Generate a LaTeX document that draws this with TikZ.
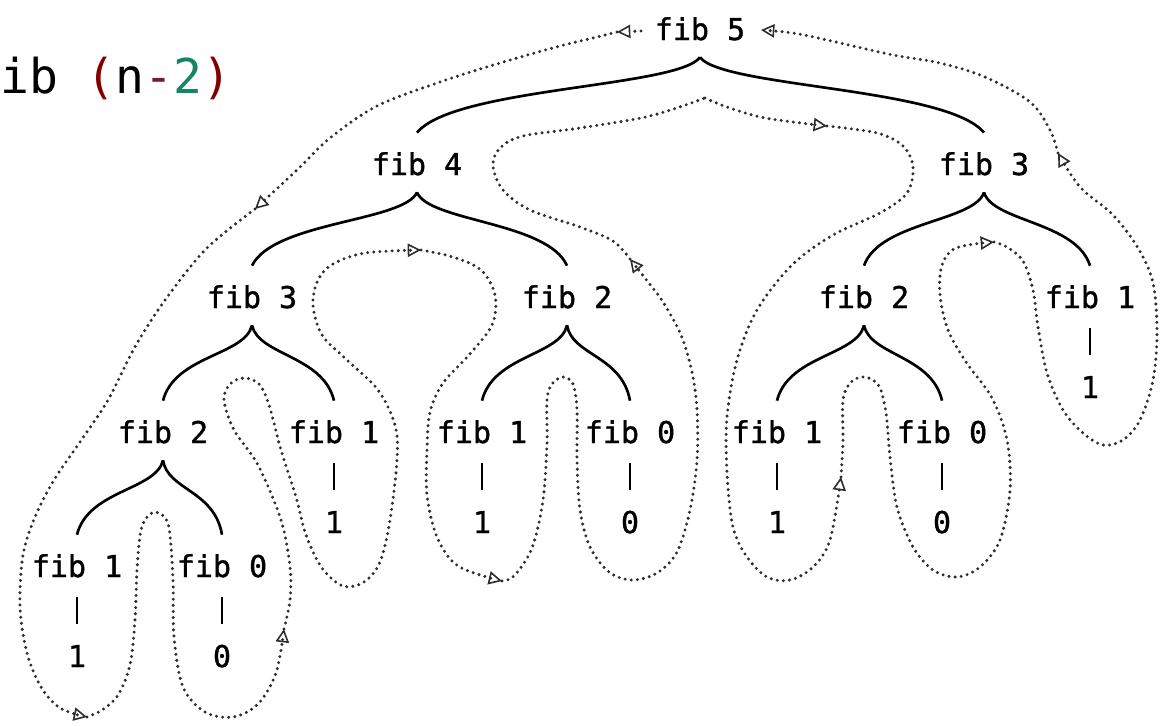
\documentclass[tikz,border=0pt]{standalone}
\usepackage{fontspec}
\newfontfamily\monofam{DejaVu Sans Mono}
\newfontfamily\treefam[FakeBold=1.2]{DejaVu Sans Mono}
\usetikzlibrary{arrows.meta,calc}
\definecolor{codered}{RGB}{128,0,0}
\definecolor{codeminus}{RGB}{122,23,58}
\definecolor{codegreen}{RGB}{22,133,96}
\definecolor{tracegray}{RGB}{45,45,45}
\newcommand\fibbranch[2]{%
  \draw[branchline] let \p1=(#1), \p2=(#2) in
    (\p1) .. controls ({\x1+0.08*(\x2-\x1)},{\y1+0.4*(\y2-\y1)})
          and ({\x1+0.87*(\x2-\x1)},{\y1+0.4*(\y2-\y1)}) .. (\p2);}
\tikzset{
  fibnode/.style={font=\treefam\fontsize{22.5}{27}\selectfont, anchor=base,
    inner xsep=2pt, inner ysep=13pt, outer sep=0pt, text height=18.75pt, text depth=0pt},
  valnode/.style={font=\treefam\fontsize{22.5}{27}\selectfont, anchor=base,
    inner sep=0pt, outer sep=0pt, text height=18.75pt, text depth=0pt},
  branchline/.style={line width=2pt},
  barline/.style={line width=2pt, shorten <=2pt, shorten >=13.5pt},
  tracepath/.style={tracegray, line width=2.5pt, dash pattern=on 0pt off 4.6pt, line cap=round},
  arrowtip/.style={-{Triangle[open,length=10pt,width=10pt,line width=1.2pt]}}
}
\begin{document}
\begin{tikzpicture}[x=0.75pt,y=-0.75pt]
\useasboundingbox (0,0) rectangle (1166,725);

% code fragment
\node[anchor=base west, inner sep=0pt, font=\monofam\fontsize{36}{40}\selectfont] (code) at (0,93)
  {ib \textcolor{codered}{(}n\textcolor{codeminus}{-}\textcolor{codegreen}{2}\textcolor{codered}{)}};

% tree nodes
\node[fibnode] (f5)  at (700,40)  {fib 5};
\node[fibnode] (f4)  at (417,175) {fib 4};
\node[fibnode] (f3r) at (984,175) {fib 3};
\node[fibnode] (f3l) at (252,308) {fib 3};
\node[fibnode] (f2m) at (567,308) {fib 2};
\node[fibnode] (f2r) at (864,308) {fib 2};
\node[fibnode] (f1r) at (1090,308) {fib 1};
\node[fibnode] (f2l) at (163,443) {fib 2};
\node[fibnode] (f1a) at (334,443) {fib 1};
\node[fibnode] (f1b) at (482,443) {fib 1};
\node[fibnode] (f0b) at (630,443) {fib 0};
\node[fibnode] (f1c) at (777,443) {fib 1};
\node[fibnode] (f0c) at (942,443) {fib 0};
\node[fibnode] (f1d) at (77,577)  {fib 1};
\node[fibnode] (f0d) at (222,577) {fib 0};

% values
\node[valnode] (v1r) at (1090,398) {1};
\node[valnode] (v1a) at (334,533) {1};
\node[valnode] (v1b) at (482,533) {1};
\node[valnode] (v0b) at (630,533) {0};
\node[valnode] (v1c) at (777,533) {1};
\node[valnode] (v0c) at (942,533) {0};
\node[valnode] (v1d) at (77,667)  {1};
\node[valnode] (v0d) at (222,667) {0};

% branches
\fibbranch{f5.south}{f4.north}
\fibbranch{f5.south}{f3r.north}
\fibbranch{f4.south}{f3l.north}
\fibbranch{f4.south}{f2m.north}
\fibbranch{f3r.south}{f2r.north}
\fibbranch{f3r.south}{f1r.north}
\fibbranch{f3l.south}{f2l.north}
\fibbranch{f3l.south}{f1a.north}
\fibbranch{f2m.south}{f1b.north}
\fibbranch{f2m.south}{f0b.north}
\fibbranch{f2r.south}{f1c.north}
\fibbranch{f2r.south}{f0c.north}
\fibbranch{f2l.south}{f1d.north}
\fibbranch{f2l.south}{f0d.north}

% bars
\draw[barline] (f1r.south) -- (v1r.north);
\draw[barline] (f1a.south) -- (v1a.north);
\draw[barline] (f1b.south) -- (v1b.north);
\draw[barline] (f0b.south) -- (v0b.north);
\draw[barline] (f1c.south) -- (v1c.north);
\draw[barline] (f0c.south) -- (v0c.north);
\draw[barline] (f1d.south) -- (v1d.north);
\draw[barline] (f0d.south) -- (v0d.north);

% trace of the evaluation
\coordinate (t0) at (641,31);
\coordinate (a1) at (617,32);
\coordinate (a2) at (255,209);
\coordinate (a3) at (87,717);
\coordinate (a4) at (284,629);
\coordinate (a5) at (421,250);
\coordinate (a6) at (502,581);
\coordinate (a7) at (630,259);
\coordinate (cusp) at (705,98);
\coordinate (a8) at (827,126);
\coordinate (a9) at (841,477);
\coordinate (a10) at (994,242);
\coordinate (a11) at (1058,153);
\coordinate (a12) at (761,30);

\draw[tracepath,arrowtip] (t0) -- (a1);
\draw[tracepath,arrowtip] plot[smooth,tension=0.55] coordinates {(a1) (593,38) (560,46) (500,63) (440,82) (377,106) (330,138) (298,169) (a2)};
\draw[tracepath,arrowtip] plot[smooth,tension=0.55] coordinates {(a2) (207,248) (168,296) (136,345) (108,400) (80,442) (54,480) (35,517) (23,555) (20,607) (27,653) (41,687) (60,708) (a3)};
\draw[tracepath,arrowtip] plot[smooth,tension=0.55] coordinates {(a3) (102,710) (118,695) (130,665) (135,620) (137,570) (141,530) (150,514) (161,514) (169,528) (173,580) (174,637) (183,687) (205,712) (233,717) (258,704) (276,673) (a4)};
\draw[tracepath,arrowtip] plot[smooth,tension=0.55] coordinates {(a4) (290,600) (290,567) (281,520) (258,465) (234,430) (224,400) (230,384) (244,378) (259,384) (269,405) (281,450) (296,497) (306,535) (322,568) (343,586) (364,582) (380,562) (390,520) (397,460) (395,425) (378,390) (347,360) (322,335) (313,305) (318,280) (333,264) (365,253) (a5)};
\draw[tracepath,arrowtip] plot[smooth,tension=0.55] coordinates {(a5) (453,257) (481,270) (495,295) (492,325) (468,356) (443,383) (430,412) (427,450) (427,495) (437,537) (458,566) (a6)};
\draw[tracepath,arrowtip] plot[smooth,tension=0.55] coordinates {(a6) (514,576) (532,548) (543,500) (547,443) (547,400) (552,384) (563,377) (573,384) (577,410) (577,460) (580,510) (590,547) (609,572) (632,580) (657,573) (677,552) (690,510) (697,460) (697,410) (692,372) (681,335) (663,302) (648,282) (a7)};
\draw[tracepath] plot[smooth,tension=0.55] coordinates {(a7) (613,241) (580,227) (530,210) (503,190) (493,166) (500,148) (523,136) (580,128) (650,116) (cusp)};
\draw[tracepath,arrowtip] plot[smooth,tension=0.55] coordinates {(cusp) (727,107) (765,118) (a8)};
\draw[tracepath,arrowtip] plot[smooth,tension=0.55] coordinates {(a8) (877,133) (903,146) (913,167) (907,193) (880,213) (833,235) (792,265) (757,310) (737,360) (727,417) (727,473) (733,527) (747,557) (767,577) (790,580) (813,567) (830,540) (a9)};
\draw[tracepath,arrowtip] plot[smooth,tension=0.55] coordinates {(a9) (843,440) (843,400) (851,382) (865,377) (879,386) (886,413) (890,457) (897,507) (913,547) (933,570) (957,577) (980,567) (1000,540) (1010,490) (1007,440) (992,398) (966,362) (948,330) (940,295) (942,265) (956,248) (a10)};
\draw[tracepath,arrowtip] plot[smooth,tension=0.55] coordinates {(a10) (1007,247) (1023,261) (1033,290) (1038,327) (1047,373) (1063,410) (1083,433) (1103,445) (1123,440) (1140,420) (1153,380) (1157,333) (1153,283) (1138,248) (1113,215) (1080,187) (a11)};
\draw[tracepath,arrowtip] plot[smooth,tension=0.55] coordinates {(a11) (1050,130) (1030,102) (985,77) (940,63) (893,55) (827,40) (793,33) (a12)};
\end{tikzpicture}
\end{document}
